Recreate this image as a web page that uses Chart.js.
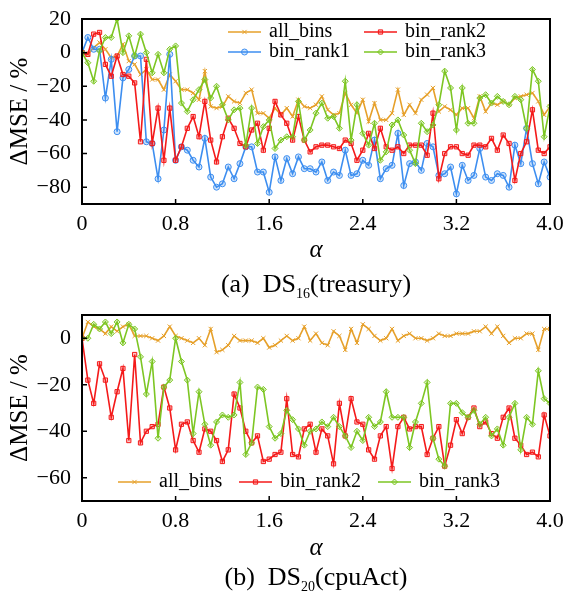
<!DOCTYPE html>
<html>
<head>
<meta charset="utf-8">
<script src="https://cdn.jsdelivr.net/npm/chart.js@4.4.0/dist/chart.umd.min.js"></script>
<style>
  body { margin: 0; background: #fff; width: 566px; height: 592px; position: relative; overflow: hidden; font-family: "Liberation Serif", serif; }
  canvas { position: absolute; left: 0; }
  .caption { position: absolute; left: 82px; width: 468px; text-align: center; font-size: 26px; line-height: 30px; color: #000; white-space: pre; }
  .caption sub { font-size: 14px; line-height: 0; }
</style>
</head>
<body>
<canvas id="chartTop" width="566" height="268" style="top:0px"></canvas>
<canvas id="chartBottom" width="566" height="268" style="top:296px"></canvas>
<div class="caption" style="top:269px">(a)  DS<sub>16</sub>(treasury)</div>
<div class="caption" style="top:562px">(b)  DS<sub>20</sub>(cpuAct)</div>
<script>
// Données (alpha de 0 à 4.0, pas de 0.05)
const alphaValues = Array.from({ length: 81 }, (_, i) => +(i * 0.05).toFixed(2));
const xTickValues = [0, 0.8, 1.6, 2.4, 3.2, 4.0];
const xTickLabels = ["0", "0.8", "1.6", "2.4", "3.2", "4.0"];

// (a) DS16 treasury
const topTicks = [20, 0, -20, -40, -60, -80];
const topAllBins = [0, -1, 3, 6, 2, -3, -2, 5, -5, -7,
  -13, -10, -16, -16, -22, -13, -17, -22, -22, -24,
  -28, -11, -32, -33, -32, -26, -29, -30, -24, -22,
  -36, -36, -39, -33, -37, -33, -38, -28, -32, -33,
  -31, -26, -34, -37, -36, -24, -31, -36, -28, -41,
  -30, -40, -40, -36, -22, -37, -31, -36, -28, -25,
  -21, -35, -32, -34, -37, -33, -33, -39, -26, -35,
  -30, -31, -29, -31, -27, -26, -25, -24, -29, -37,
  -32];
const topRank1 = [0, 9, 2, 2, -27, -4, -47, -15, -10, -2,
  -2, -53, -54, -75, -46, -1, -64, -56, -58, -64,
  -68, -51, -74, -80, -78, -68, -75, -66, -56, -56,
  -71, -71, -83, -62, -76, -63, -72, -62, -69, -69,
  -71, -65, -76, -71, -73, -58, -73, -72, -64, -67,
  -52, -75, -69, -67, -48, -79, -66, -65, -70, -54,
  -56, -73, -72, -68, -84, -67, -76, -73, -57, -74,
  -76, -72, -73, -80, -55, -66, -45, -66, -78, -65,
  -74];
const topRank2 = [0, -1, 11, 12, -7, -14, -2, -13, -14, -18,
  -53, -4, -54, -33, -64, -33, -64, -56, -45, -38,
  -50, -29, -52, -65, -50, -39, -45, -54, -56, -46,
  -42, -58, -45, -29, -37, -42, -52, -38, -52, -59,
  -56, -55, -55, -56, -57, -52, -54, -64, -58, -48,
  -57, -45, -56, -58, -56, -60, -55, -55, -55, -61,
  -36, -75, -60, -56, -56, -60, -61, -55, -55, -56,
  -51, -58, -49, -54, -76, -60, -53, -34, -58, -60,
  -56];
const topRank3 = [0, -6, -17, 1, 9, 9, 20, 0, 10, -2,
  11, 0, -12, -1, -12, 2, 4, -30, -35, -28,
  -22, -16, -27, -20, -31, -40, -34, -33, -55, -33,
  -54, -44, -40, -57, -52, -50, -50, -29, -52, -46,
  -36, -30, -39, -38, -45, -17, -52, -31, -48, -55,
  -42, -64, -59, -43, -40, -49, -58, -66, -42, -47,
  -43, -31, -11, -21, -46, -21, -42, -42, -27, -25,
  -30, -26, -29, -31, -26, -28, -45, -10, -17, -50,
  -32];

// (b) DS20 cpuAct
const bottomTicks = [0, -20, -40, -60];
const bottomAllBins = [0, 7, 5, 4, 2, 5, 3, 5, 6, 1,
  1, 1, 0, -1, 1, 5, 1, 0, -1, -2,
  0, -3, 4, -6, -5, -3, 1, -1, -1, -1,
  -2, 0, -4, -3, -1, 1, -1, 0, 5, -1,
  2, -2, -3, 3, 1, -5, 4, -2, 6, 4,
  1, -1, 0, 4, -1, 1, 2, 0, 0, -1,
  0, 2, 1, 1, 2, 2, 2, 3, 3, 5,
  2, 5, 1, -2, 0, 0, 2, 2, -5, 4,
  4];
const bottomRank2 = [0, -18, -28, -11, -18, -34, -23, -13, -44, -7,
  -45, -40, -38, -37, -21, -30, -48, -37, -36, -44,
  -49, -39, -40, -44, -53, -48, -24, -30, -40, -45,
  -42, -53, -52, -50, -49, -26, -50, -51, -39, -37,
  -49, -39, -42, -54, -28, -42, -26, -36, -37, -48,
  -52, -42, -38, -56, -38, -34, -39, -38, -38, -50,
  -43, -38, -55, -46, -35, -41, -34, -30, -38, -36,
  -41, -43, -34, -30, -43, -46, -50, -49, -51, -33,
  -42];
const bottomRank3 = [0, 0, 6, 4, 7, 2, 7, -2, 6, 4,
  -8, -24, -10, -43, -21, -18, 0, -10, -18, -41,
  -23, -37, -46, -36, -33, -34, -33, -19, -50, -45,
  -21, -22, -38, -43, -41, -31, -35, -39, -46, -40,
  -39, -36, -38, -34, -38, -42, -47, -40, -44, -34,
  -38, -36, -23, -34, -34, -34, -47, -36, -28, -19,
  -43, -52, -55, -28, -28, -32, -34, -31, -37, -34,
  -42, -39, -46, -34, -28, -48, -34, -37, -14, -26,
  -28];

const FONT = "'Liberation Serif', 'Times New Roman', serif";
const ORANGE = "#e6a02a";
const BLUE = "#3d8ef0";
const RED = "#f41a1a";
const GREEN = "#7dc623";

// Fonction pour construire une série
function makeSet(label, values, color, style, fill, order) {
  return {
    label: label,
    data: values.map((v, i) => ({ x: alphaValues[i], y: v })),
    borderColor: color,
    backgroundColor: fill,
    borderWidth: 1.6,
    pointStyle: style,
    pointRadius: 3,
    pointBorderWidth: 1,
    pointBackgroundColor: fill,
    pointBorderColor: color,
    tension: 0,
    order: order,
  };
}

const minus = (v) => (v < 0 ? "\u2212" + Math.abs(v) : String(v));

// Cadre, graduations intérieures et légende
const framePlugin = {
  id: "frame",
  afterDatasetsDraw(chart, args, opts) {
    const { ctx, chartArea: a, scales } = chart;
    ctx.save();
    ctx.strokeStyle = "#000";
    ctx.lineWidth = 2;
    ctx.strokeRect(a.left, a.top, a.right - a.left, a.bottom - a.top);
    ctx.lineWidth = 1.5;
    ctx.beginPath();
    scales.x.ticks.forEach((t) => {
      const px = scales.x.getPixelForValue(t.value);
      ctx.moveTo(px, a.bottom);
      ctx.lineTo(px, a.bottom - 5);
    });
    scales.y.ticks.forEach((t) => {
      const py = scales.y.getPixelForValue(t.value);
      ctx.moveTo(a.left, py);
      ctx.lineTo(a.left + 5, py);
    });
    ctx.stroke();

    ctx.font = "20px " + FONT;
    ctx.textBaseline = "middle";
    ctx.textAlign = "left";
    (opts.items || []).forEach((it) => {
      const ds = chart.data.datasets[it.ds];
      ctx.strokeStyle = ds.borderColor;
      ctx.lineWidth = ds.borderWidth;
      ctx.beginPath();
      ctx.moveTo(it.x, it.y);
      ctx.lineTo(it.x + 33, it.y);
      ctx.stroke();
      ctx.fillStyle = ds.pointBackgroundColor;
      ctx.lineWidth = ds.pointBorderWidth;
      Chart.helpers.drawPoint(ctx, { pointStyle: ds.pointStyle, radius: ds.pointRadius, rotation: 0, borderWidth: 1 }, it.x + 16.5, it.y);
      ctx.fillStyle = "#000";
      ctx.fillText(ds.label, it.x + 41, it.y);
    });
    ctx.restore();
  },
};

function makeChart(id, datasets, yMin, yMax, yTicks, plotTop, xHeight, titlePad, legendItems) {
  return new Chart(document.getElementById(id), {
    type: "line",
    data: { datasets: datasets },
    options: {
      responsive: false,
      animation: false,
      events: [],
      layout: { padding: { top: plotTop, right: 16, left: 0, bottom: 0 } },
      plugins: { legend: { display: false }, tooltip: { enabled: false }, frame: { items: legendItems } },
      scales: {
        x: {
          type: "linear",
          min: 0,
          max: 4,
          afterBuildTicks: (s) => { s.ticks = xTickValues.map((v) => ({ value: v })); },
          afterFit: (s) => { s.height = xHeight; s.paddingLeft = 0; s.paddingRight = 0; },
          grid: { display: false, drawTicks: false },
          border: { display: false },
          ticks: { font: { family: FONT, size: 22 }, color: "#000", padding: 7, maxRotation: 0, autoSkip: false, callback: (v, i) => xTickLabels[i] },
          title: { display: true, text: "\u03b1", color: "#000", font: { family: FONT, size: 25, style: "italic" }, padding: { top: 0, bottom: titlePad } },
        },
        y: {
          min: yMin,
          max: yMax,
          afterBuildTicks: (s) => { s.ticks = yTicks.map((v) => ({ value: v })); },
          afterFit: (s) => { s.width = 82; s.paddingTop = 0; s.paddingBottom = 0; },
          grid: { display: false, drawTicks: false },
          border: { display: false },
          ticks: { font: { family: FONT, size: 22 }, color: "#000", padding: 11, callback: (v) => minus(v) },
          title: { display: true, text: "\u0394MSE / %", color: "#000", font: { family: FONT, size: 25 }, padding: { top: 5, bottom: 0 } },
        },
      },
    },
    plugins: [framePlugin],
  });
}

makeChart("chartTop", [
  makeSet("all_bins", topAllBins, ORANGE, "crossRot", "rgba(230,160,42,0.3)", 4),
  makeSet("bin_rank1", topRank1, BLUE, "circle", "rgba(61,142,240,0.25)", 3),
  makeSet("bin_rank2", topRank2, RED, "rect", "rgba(244,26,26,0.25)", 2),
  makeSet("bin_rank3", topRank3, GREEN, "rectRot", "rgba(125,198,35,0.25)", 1),
], -90, 20, topTicks, 19, 64, 3, [
  { ds: 0, x: 228, y: 32 },
  { ds: 2, x: 364, y: 32 },
  { ds: 1, x: 228, y: 52 },
  { ds: 3, x: 364, y: 52 },
]);

makeChart("chartBottom", [
  makeSet("all_bins", bottomAllBins, ORANGE, "crossRot", "rgba(230,160,42,0.3)", 3),
  makeSet("bin_rank2", bottomRank2, RED, "rect", "rgba(244,26,26,0.25)", 2),
  makeSet("bin_rank3", bottomRank3, GREEN, "rectRot", "rgba(125,198,35,0.25)", 1),
], -70, 10, bottomTicks, 19, 63, 1, [
  { ds: 0, x: 118, y: 186 },
  { ds: 1, x: 239, y: 186 },
  { ds: 2, x: 378, y: 186 },
]);
</script>
</body>
</html>
